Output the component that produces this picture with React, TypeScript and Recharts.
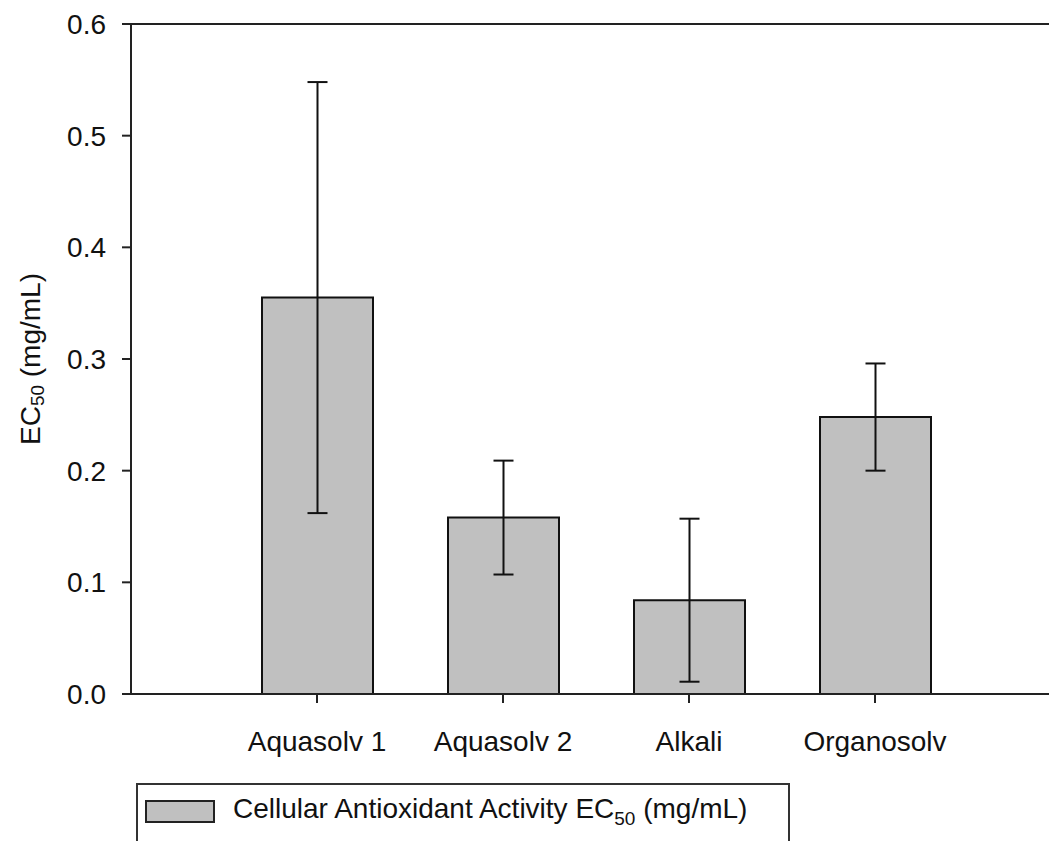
import React from "react";
import { BarChart, Bar, XAxis, YAxis, ErrorBar, ReferenceLine } from "recharts";

const categories = ["Aquasolv 1", "Aquasolv 2", "Alkali", "Organosolv"];
const ec50 = [0.355, 0.158, 0.084, 0.248];
const ec50Err = [0.193, 0.051, 0.073, 0.048];
const yTicks = [0, 0.1, 0.2, 0.3, 0.4, 0.5, 0.6];

const data = categories.map((name, i) => ({ name, ec50: ec50[i], err: ec50Err[i] }));

const FONT = "'Liberation Sans', Arial, sans-serif";

function YTitle({ viewBox }: any) {
  const cx = 30;
  const cy = viewBox.y + viewBox.height / 2;
  return (
    <text
      x={cx}
      y={cy}
      transform={`rotate(-90, ${cx}, ${cy})`}
      textAnchor="middle"
      dominantBaseline="central"
      fontSize={28}
      fontFamily={FONT}
      fill="#111"
    >
      EC<tspan fontSize={19} dy={7}>50</tspan>
      <tspan dy={-7}> (mg/mL)</tspan>
    </text>
  );
}

function LegendBox() {
  return (
    <div
      style={{
        position: "absolute",
        left: 136,
        top: 783,
        width: 654,
        height: 90,
        border: "2px solid #333",
        boxSizing: "border-box",
        background: "#fff",
        fontFamily: FONT,
        fontSize: 28,
        color: "#111",
      }}
    >
      <div
        style={{
          position: "absolute",
          left: 7,
          top: 15,
          width: 70,
          height: 23,
          background: "#c0c0c0",
          border: "2px solid #222",
          boxSizing: "border-box",
        }}
      />
      <div style={{ position: "absolute", left: 95, top: 8, whiteSpace: "nowrap" }}>
        Cellular Antioxidant Activity EC<sub style={{ fontSize: 19 }}>50</sub> (mg/mL)
      </div>
    </div>
  );
}

export default function App() {
  return (
    <div
      style={{
        position: "absolute",
        left: 0,
        top: 0,
        width: 1049,
        height: 841,
        overflow: "hidden",
        background: "#fff",
      }}
    >
      <BarChart
        width={1061}
        height={841}
        data={data}
        margin={{ top: 24, right: 0, left: 0, bottom: 0 }}
      >
        <XAxis
          dataKey="name"
          padding={{ left: 93, right: 93 }}
          tickSize={9}
          tickMargin={28}
          stroke="#222"
          strokeWidth={2}
          tick={{ fill: "#111", fontSize: 28, fontFamily: FONT }}
          height={147}
        />
        <YAxis
          domain={[0, 0.6]}
          ticks={yTicks}
          tickFormatter={(v: number) => v.toFixed(1)}
          width={131}
          tickSize={9}
          tickMargin={16}
          stroke="#222"
          strokeWidth={2}
          tick={{ fill: "#111", fontSize: 28, fontFamily: FONT }}
          label={<YTitle />}
        />
        <ReferenceLine y={0.6} stroke="#222" strokeWidth={2} />
        <Bar
          dataKey="ec50"
          fill="#c0c0c0"
          stroke="#111"
          strokeWidth={2}
          barSize={111}
          isAnimationActive={false}
        >
          <ErrorBar dataKey="err" width={10} stroke="#111" strokeWidth={2} direction="y" />
        </Bar>
      </BarChart>
      <LegendBox />
    </div>
  );
}
